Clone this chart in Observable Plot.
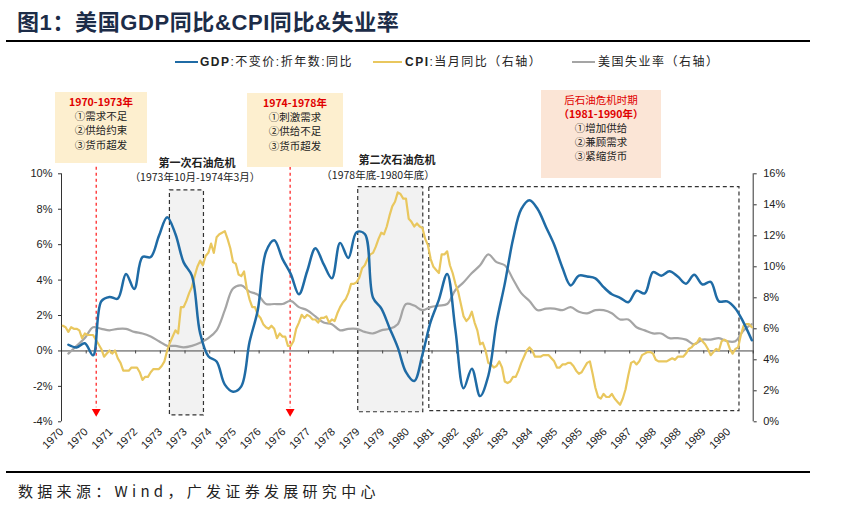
<!DOCTYPE html>
<html><head><meta charset="utf-8">
<script src="https://cdn.jsdelivr.net/npm/d3@7"></script>
<script src="https://cdn.jsdelivr.net/npm/@observablehq/plot@0.6"></script>
<style>
body{margin:0;background:#fff;}
#wrap{position:relative;width:858px;height:521px;overflow:hidden;background:#fff;font-family:"Liberation Sans",Arial,"Noto Sans CJK SC",sans-serif;color:#222;}
.abs{position:absolute;white-space:nowrap;}
#title{left:17px;top:8px;font-family:"Liberation Sans",Arial,"Noto Sans CJK SC";font-weight:bold;font-size:22px;line-height:30px;letter-spacing:0.6px;color:#1c2c48;}
.hline{position:absolute;left:6px;width:804px;height:2px;background:#000;}
.leg{top:54px;font-size:12px;line-height:16px;letter-spacing:1.5px;font-family:"Liberation Sans",Arial,"Noto Sans CJK SC";color:#222;}
.leg b{font-weight:bold;}
.sw{position:absolute;top:61px;height:2px;}
.note{position:absolute;font-family:"Noto Sans CJK SC";font-size:10.5px;text-align:center;color:#222;}
.note div{position:absolute;left:0;width:100%;height:11px;line-height:11px;margin-top:-5.5px;overflow:visible;}
.red{color:#e00000;font-weight:bold;}
.lbl{position:absolute;transform:translate(-50%,-50%);font-family:"Noto Sans CJK SC";white-space:nowrap;color:#222;height:12px;line-height:12px;}
#src{left:18px;top:481px;font-family:"Noto Sans CJK SC","Liberation Sans";font-size:15px;line-height:20px;letter-spacing:4.3px;color:#222;}
#chart{position:absolute;left:0;top:72px;}
</style></head>
<body><div id="wrap">
<div id="title" class="abs">图1：美国GDP同比&amp;CPI同比&amp;失业率</div>
<div class="hline" style="top:40px"></div>

<div class="sw" style="left:175px;width:23px;background:#1f6ba5"></div>
<div class="abs leg" style="left:200px"><b>GDP</b>:不变价:折年数:同比</div>
<div class="sw" style="left:373px;width:29px;background:#e9c75e"></div>
<div class="abs leg" style="left:405px"><b>CPI</b>:当月同比（右轴）</div>
<div class="sw" style="left:572px;width:23px;background:#a5a5a5"></div>
<div class="abs leg" style="left:598px">美国失业率（右轴）</div>

<div id="chart"></div>

<div class="note" style="left:55px;top:92px;width:92px;height:71px;background:#fdefcf">
  <div class="red" style="top:9.5px">1970-1973年</div>
  <div style="top:23.7px">①需求不足</div>
  <div style="top:37.9px">②供给约束</div>
  <div style="top:52.1px">③货币超发</div>
</div>
<div class="note" style="left:247px;top:93px;width:96px;height:74px;background:#fdefcf">
  <div class="red" style="top:9.5px">1974-1978年</div>
  <div style="top:23.7px">①刺激需求</div>
  <div style="top:37.9px">②供给不足</div>
  <div style="top:52.1px">③货币超发</div>
</div>
<div class="note" style="left:541px;top:90px;width:120px;height:88px;background:#fbe5d6">
  <div class="red" style="top:9px;font-weight:normal">后石油危机时期</div>
  <div class="red" style="top:23.2px">（1981-1990年）</div>
  <div style="top:37.4px">①增加供给</div>
  <div style="top:51.6px">②兼顾需求</div>
  <div style="top:65.8px">③紧缩货币</div>
</div>

<div class="lbl" style="left:197px;top:161.5px;font-size:11px;font-weight:bold">第一次石油危机</div>
<div class="lbl" style="left:195px;top:177px;font-size:10.5px">（1973年10月-1974年3月）</div>
<div class="lbl" style="left:397px;top:158.5px;font-size:11px;font-weight:bold">第二次石油危机</div>
<div class="lbl" style="left:378px;top:174.5px;font-size:10.5px">（1978年底-1980年底）</div>

<div class="hline" style="top:471px"></div>
<div id="src" class="abs">数据来源：Wind，广发证券发展研究中心</div>
</div>
<script>
// ---- data ----
// x-axis tick labels (every 9 months from 1970-01)
const xLabels = ["1970","1970","1971","1972","1973","1973","1974","1975","1976","1976","1977","1978","1979","1979","1980","1981","1982","1982","1983","1984","1985","1985","1986","1987","1988","1988","1989","1990"];
const leftTicks = [-4,-2,0,2,4,6,8,10];
const rightTicks = [0,2,4,6,8,10,12,14,16];

// US real GDP YoY, quarterly 1970Q1-1990Q4 (%)
const gdp = [
 0.35,0.2,0.43,-0.25,
 2.8,3.05,2.95,4.35,
 3.5,5.3,5.3,6.5,
 7.55,6.6,5.0,4.25,
 1.0,-0.3,-0.6,-1.9,
 -2.3,-2.0,0.5,2.3,
 5.6,6.25,5.2,4.35,
 3.2,4.5,5.8,4.9,
 4.1,6.1,5.25,6.7,
 6.6,3.0,2.4,1.3,
 0.2,-1.2,-1.7,-0.2,
 1.65,2.9,4.35,1.2,
 -2.1,-1.0,-2.55,-1.4,
 1.6,3.8,6.3,8.0,
 8.5,8.0,7.0,6.0,
 4.7,3.7,4.25,4.2,
 4.1,3.6,3.2,3.0,
 2.75,3.4,3.25,4.45,
 4.25,4.5,4.2,3.8,
 4.3,3.75,3.9,2.8,
 2.8,2.4,1.6,0.6];

// US CPI YoY, monthly 1970-01 .. 1990-12 (%), right axis
const cpi1970s = [
 6.2,6.1,5.8,6.1,6.0,6.0,5.9,5.4,5.7,5.6,5.6,5.6,
 5.3,5.0,4.7,4.2,4.4,4.6,4.4,4.6,4.1,3.8,3.3,3.3,
 3.3,3.5,3.5,3.5,3.2,2.7,2.9,2.9,3.2,3.4,3.4,3.4,
 3.6,3.9,4.6,5.1,5.5,5.9,5.7,7.4,7.4,7.8,8.3,8.7,
 9.4,10.0,10.4,10.1,10.7,10.9,11.5,10.9,11.9,12.1,12.2,12.3,
 11.8,11.2,10.3,10.2,9.5,9.4,9.7,8.6,7.9,7.4,7.4,6.9,
 6.7,6.3,6.1,6.0,6.2,6.0,5.4,5.7,5.5,5.5,4.9,4.9,
 5.2,6.0,6.4,6.9,6.7,6.9,6.8,6.6,6.6,6.4,6.7,6.7,
 6.8,6.4,6.6,6.5,7.0,7.4,7.7,7.9,8.3,8.9,8.9,9.0,
 9.3,9.9,10.1,10.5,10.8,10.9,11.3,11.8,12.2,12.1,12.6,13.3];
const cpi1980s = [
 13.9,14.2,14.8,14.7,14.4,14.4,13.1,12.9,12.6,12.8,12.6,12.5,
 11.8,11.4,10.5,10.0,9.8,9.6,10.8,10.8,11.0,10.1,9.6,8.9,
 8.4,7.6,6.8,6.5,6.7,7.1,6.4,5.9,5.0,5.1,4.6,3.8,
 3.7,3.5,3.6,3.9,3.5,2.6,2.5,2.6,2.9,2.9,3.3,3.8,
 4.2,4.6,4.8,4.6,4.2,4.2,4.2,4.3,4.3,4.3,4.1,3.9,
 3.5,3.5,3.7,3.7,3.8,3.8,3.6,3.3,3.1,3.2,3.5,3.8,
 3.9,3.1,2.2,1.6,1.5,1.8,1.6,1.6,1.8,1.5,1.3,1.1,
 1.5,2.1,3.0,3.8,3.9,3.7,3.9,4.3,4.4,4.5,4.5,4.4,
 4.0,3.9,3.9,3.9,3.9,4.0,4.1,4.0,4.2,4.2,4.2,4.4,
 4.7,4.8,5.0,5.1,5.4,5.2,5.0,4.7,4.3,4.5,4.7,4.6,
 5.2,5.3,5.2,4.7,4.4,4.7,4.8,5.6,6.2,6.3,6.3,6.1];

// US unemployment rate, quarter-end months 1970Q1-1990Q4 (%), right axis
const unemp = [
 4.4,4.9,5.4,6.1, 6.0,5.9,6.0,6.0, 5.8,5.7,5.5,5.2, 4.9,4.9,4.8,4.9,
 5.1,5.4,5.9,7.2, 8.6,8.8,8.4,8.2, 7.6,7.6,7.6,7.8, 7.4,7.2,6.8,6.4,
 6.3,5.9,6.0,6.0, 5.8,5.7,5.9,6.0, 6.3,7.6,7.5,7.2, 7.4,7.5,7.6,8.5,
 9.0,9.6,10.1,10.8, 10.3,10.1,9.2,8.3, 7.8,7.2,7.3,7.3, 7.2,7.4,7.1,7.0,
 7.2,7.2,7.0,6.6, 6.6,6.1,5.9,5.7, 5.7,5.4,5.4,5.3, 5.0,5.3,5.3,5.4,
 5.2,5.2,5.9,6.3];

// oil-crisis / period boxes, in month index from 1970-01
const periods = [
 {name:"第一次石油危机", start:39.5, end:51.9, top:9.06, bottom:-3.64, shade:true},
 {name:"第二次石油危机", start:108.1, end:131.8, top:9.25, bottom:-3.46, shade:true},
 {name:"后石油危机时期", start:134.0, end:247.0, top:9.25, bottom:-3.40, shade:false}
];
// red dashed arrows (month index)
const arrows = [12.65, 83.3];

// ---- build ----
const toLeft = v => -4 + v * 14 / 16;
const gdpRows = gdp.map((v,k) => ({x: 2 + 3*k + 0.5, y: v}));
const cpiAll = cpi1970s.concat(cpi1980s);
const cpiRows = cpiAll.map((v,i) => ({x: i + 0.5, y: toLeft(v)}));
const unRows = unemp.map((v,k) => ({x: 2 + 3*k + 0.5, y: toLeft(v)}));
const xTickVals = xLabels.map((_,i) => i*9);
const xTickMarks = d3.range(0, 253, 9);

const T = 72, H = 400;
const chart = Plot.plot({
  width: 858, height: H,
  marginTop: 173.3 - T, marginBottom: T + H - 421.3,
  marginLeft: 61, marginRight: 858 - 752.7,
  x: {domain: [0, 252]},
  y: {domain: [-4, 10]},
  style: {fontFamily: "Liberation Sans, Arial, sans-serif", fontSize: "11px", color: "#222", background: "transparent", overflow: "visible"},
  marks: [
    Plot.rect(periods, {x1:"start", x2:"end", y1:"bottom", y2:"top", fill: d => d.shade ? "#f2f2f2" : "none", stroke:"#333", strokeWidth:1.2, strokeDasharray:"4,3"}),
    Plot.ruleX(arrows, {x: d=>d, y1: 10.37, y2: -3.2, stroke:"#ff2a2a", strokeWidth:1.3, strokeDasharray:"3,3"}),
    Plot.dot(arrows, {x: d=>d, y: -3.42, symbol:"triangle", r: 3.3, rotate:180, fill:"#ff0000", stroke:"none"}),
    Plot.ruleY([0], {stroke:"#444", strokeWidth:1}),
    Plot.ruleX(xTickMarks, {x: d=>d, y1: 0, y2: -0.17, stroke:"#444"}),
    Plot.ruleX([0, 252], {y1:-4, y2:10, stroke:"#333", strokeWidth:1}),
    Plot.axisY(leftTicks, {anchor:"left", tickSize:3, tickPadding:6, tickFormat: d => d + "%", stroke:"#333"}),
    Plot.axisY(rightTicks.map(toLeft), {anchor:"right", tickSize:3, tickPadding:7, tickFormat: (d,i) => rightTicks[i] + "%", stroke:"#333"}),
    Plot.axisX(xTickVals, {anchor:"bottom", tickSize:0, tickPadding:8, tickRotate:-45, tickFormat:(d,i) => xLabels[i]}),
    Plot.line(unRows, {x:"x", y:"y", stroke:"#a5a5a5", strokeWidth:2.2, curve:"catmull-rom"}),
    Plot.line(cpiRows, {x:"x", y:"y", stroke:"#e9c75e", strokeWidth:2.2}),
    Plot.line(gdpRows, {x:"x", y:"y", stroke:"#1f6ba5", strokeWidth:2.5, curve:"catmull-rom"})
  ]
});
document.getElementById("chart").appendChild(chart);
</script>
</body></html>
